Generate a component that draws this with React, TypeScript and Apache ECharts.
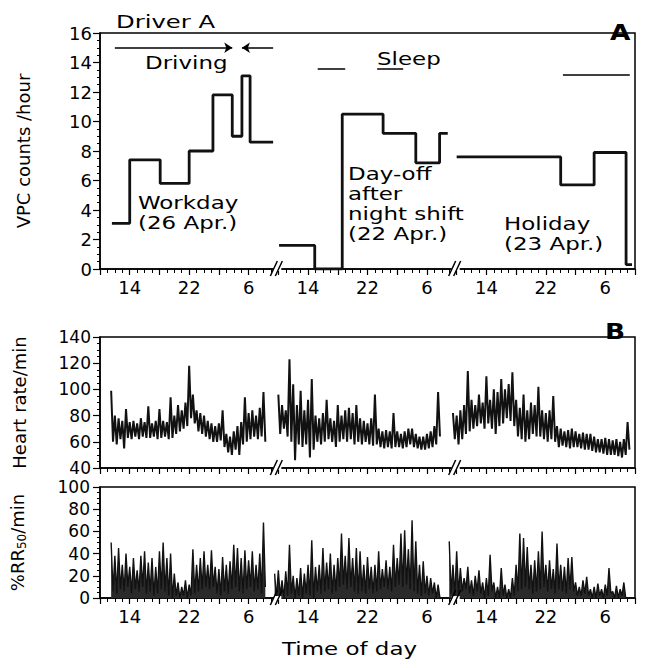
import React, { useEffect, useRef } from "react";
import * as echarts from "echarts";

// ---------- Data (hours counted from 10:00 of the first recorded day; 3 × 24 h panels) ----------
const tickHours = [4, 12, 20, 28, 36, 44, 52, 60, 68];
const tickLabels = ["14", "22", "6", "14", "22", "6", "14", "22", "6"];
const breakHours = [24, 48];

// Panel A: VPC counts/hour (step levels; hours list has one extra entry = end of segment)
const vpcWorkdayHours = [1.6, 4.0, 8.1, 12.0, 15.2, 17.8, 19.1, 20.2, 23.3];
const vpcWorkdayValues = [3.1, 7.4, 5.8, 8.0, 11.8, 9.0, 13.1, 8.6];
const vpcDayoffHours = [24.1, 28.9, 32.6, 38.1, 42.5, 45.7, 46.8];
const vpcDayoffValues = [1.6, 0, 10.5, 9.2, 7.2, 9.2];
const vpcHolidayHours = [48.0, 62.0, 66.5, 70.8, 71.6];
const vpcHolidayValues = [7.6, 5.7, 7.9, 0.3];

const drivingLevel = 15;
const drivingBars = [
  [2.0, 17.8, "end"],
  [19.1, 23.3, "start"],
];
const sleepBars = [
  [29.3, 33.0, 13.6],
  [37.3, 40.8, 13.6],
  [62.3, 71.3, 13.2],
];

// Panel B: heart rate/min, half-hour bins (high / low)
const hrStart1 = 1.5;
const hrHi1 = [99,80,78,76,85,75,76,74,78,75,87,74,76,85,76,75,94,80,88,84,90,118,96,84,82,80,76,74,72,74,84,66,64,68,72,75,94,82,84,80,86,98];
const hrLo1 = [60,58,62,55,63,62,64,62,64,63,63,64,62,63,64,62,63,66,68,70,72,78,74,68,66,64,62,60,60,61,56,52,50,54,50,58,60,62,64,62,64,60];
const hrStart2 = 24.0;
const hrHi2 = [96,88,84,123,104,88,99,84,92,108,80,78,82,92,78,76,88,80,84,86,82,88,78,76,74,78,96,70,68,69,68,82,68,66,68,70,70,66,64,64,66,68,72,98];
const hrLo2 = [66,70,64,60,46,58,56,58,48,54,60,58,60,62,60,56,60,62,60,62,58,60,58,60,58,57,58,56,55,56,55,56,56,55,56,58,56,55,54,54,55,56,58,64];
const hrStart3 = 47.5;
const hrHi3 = [82,80,84,88,114,92,88,96,90,110,92,100,98,108,100,104,113,92,86,96,84,90,88,102,84,82,84,95,72,70,68,69,70,68,66,67,66,66,64,62,62,63,62,61,62,60,62,75];
const hrLo3 = [62,58,62,66,68,70,72,74,70,74,70,66,72,74,78,76,72,64,62,60,62,66,64,64,62,60,62,60,56,57,56,55,56,56,55,54,54,53,52,52,51,50,50,50,49,48,50,54];

// Panel C: %RR50/min, half-hour bins (high / low)
const rrStart1 = 1.5;
const rrHi1 = [50,38,45,30,40,28,36,25,38,42,32,36,28,42,50,36,40,22,14,10,16,12,44,30,36,42,30,43,28,26,37,30,33,48,45,36,43,34,42,30,40,68];
const rrLo1 = [6,4,8,6,10,4,8,6,10,4,6,2,4,8,6,2,0,2,0,2,0,2,4,6,8,10,8,10,4,2,6,4,8,10,6,4,8,10,6,8,4,10];
const rrStart2 = 23.5;
const rrHi2 = [22,25,16,24,48,20,18,27,22,30,52,28,30,45,32,40,30,36,58,38,54,36,45,42,30,37,28,30,42,26,34,28,48,36,58,61,44,70,51,30,33,20,18,14,12];
const rrLo2 = [0,2,0,2,4,0,2,0,4,2,0,6,4,6,8,4,6,10,12,8,10,6,4,6,4,8,4,6,8,10,8,6,10,12,10,12,8,6,4,2,4,2,4,0,0];
const rrStart3 = 47.0;
const rrHi3 = [51,30,42,27,18,28,16,20,25,14,18,39,14,10,27,12,8,18,30,58,54,46,30,34,42,60,30,34,26,49,30,28,36,37,14,10,16,19,8,10,13,8,12,27,6,11,8,14];
const rrLo3 = [4,2,4,6,8,4,2,6,4,0,2,6,0,0,2,0,0,2,6,8,10,8,4,6,8,10,6,8,4,8,6,4,8,6,2,2,4,2,0,0,2,0,2,4,0,0,2,0];

// ---------- helpers ----------
const FONT = "DejaVu Sans";
const INK = "#000";

function stepData(hours: number[], values: number[]) {
  return hours.map((h, i) => [h, values[Math.min(i, values.length - 1)]]);
}
function zigzag(start: number, hi: number[], lo: number[]) {
  const pts: number[][] = [];
  hi.forEach((v, i) => {
    const t = start + i * 0.5;
    pts.push([t, v]);
    pts.push([t + 0.25, lo[i]]);
  });
  return pts;
}
function xLabel(v: number) {
  const i = tickHours.indexOf(v);
  return i >= 0 ? tickLabels[i] : "";
}

function makeX(gridIndex: number, showLabels: boolean) {
  return {
    type: "value",
    gridIndex,
    min: 0,
    max: 72,
    interval: 4,
    axisLine: { show: true, onZero: false, lineStyle: { color: INK, width: 1.5 } },
    axisTick: { show: true, length: 6, lineStyle: { color: INK, width: 1.2 } },
    minorTick: { show: true, splitNumber: 4, length: 4, lineStyle: { color: INK, width: 1 } },
    splitLine: { show: false },
    minorSplitLine: { show: false },
    axisLabel: {
      show: showLabels,
      formatter: xLabel,
      fontFamily: FONT,
      fontSize: 18,
      color: INK,
      margin: 9,
    },
  };
}

function makeY(gridIndex: number, min: number, max: number, interval: number, name: string, nameGap: number, fontSize: number, margin: number, rich?: any) {
  return {
    type: "value",
    gridIndex,
    min,
    max,
    interval,
    name,
    nameLocation: "middle",
    nameRotate: 90,
    nameGap,
    nameTextStyle: { fontFamily: FONT, fontSize: 18, color: INK, rich },
    axisLine: { show: true, lineStyle: { color: INK, width: 1.5 } },
    axisTick: { show: true, length: 7, lineStyle: { color: INK, width: 1.2 } },
    minorTick: { show: true, splitNumber: 4, length: 3, lineStyle: { color: INK, width: 1 } },
    splitLine: { show: false },
    minorSplitLine: { show: false },
    axisLabel: { fontFamily: FONT, fontSize, color: INK, margin },
  };
}

function breakSeries(gridIndex: number, yBase: number) {
  return {
    type: "custom",
    xAxisIndex: gridIndex,
    yAxisIndex: gridIndex,
    clip: false,
    z: 10,
    silent: true,
    data: breakHours.map((h) => [h, yBase]),
    renderItem: (_p: any, api: any) => {
      const p = api.coord([api.value(0), api.value(1)]);
      return {
        type: "group",
        children: [
          { type: "rect", shape: { x: p[0] - 5, y: p[1] - 2, width: 8, height: 4 }, style: { fill: "#fff" } },
          { type: "line", shape: { x1: p[0] - 8, y1: p[1] + 7, x2: p[0] - 1, y2: p[1] - 8 }, style: { stroke: INK, lineWidth: 1.5 } },
          { type: "line", shape: { x1: p[0] - 3, y1: p[1] + 7, x2: p[0] + 4, y2: p[1] - 8 }, style: { stroke: INK, lineWidth: 1.5 } },
        ],
      };
    },
  };
}

function lineSeries(gridIndex: number, data: number[][], width: number, step?: string, fill?: string) {
  const s: any = {
    type: "line",
    xAxisIndex: gridIndex,
    yAxisIndex: gridIndex,
    data,
    step: step || false,
    showSymbol: false,
    symbol: "none",
    silent: true,
    lineStyle: { color: "#111", width },
  };
  if (fill) s.areaStyle = { color: fill, opacity: 1 };
  return s;
}

function textEl(x: number, y: number, text: string, size = 17, extra: any = {}) {
  return {
    type: "text",
    x,
    y,
    scaleX: 1.35,
    silent: true,
    style: {
      text,
      fontFamily: FONT,
      fontSize: size,
      fill: INK,
      verticalAlign: "top",
      lineHeight: 20,
      ...extra,
    },
  };
}

export default function App() {
  const ref = useRef<HTMLDivElement>(null);
  useEffect(() => {
    if (!ref.current) return;
    const chart = echarts.init(ref.current, null, { renderer: "svg" });

    const vpcMarkLine = {
      silent: true,
      symbolSize: 8,
      label: { show: false },
      lineStyle: { color: INK, width: 1.5, type: "solid" },
      data: [
        ...drivingBars.map((b) => [
          { coord: [b[0], drivingLevel], symbol: b[2] === "start" ? "arrow" : "none" },
          { coord: [b[1], drivingLevel], symbol: b[2] === "end" ? "arrow" : "none" },
        ]),
        ...sleepBars.map((b) => [
          { coord: [b[0], b[2]], symbol: "none" },
          { coord: [b[1], b[2]], symbol: "none" },
        ]),
      ],
    };

    const option: any = {
      animation: false,
      backgroundColor: "#fff",
      grid: [
        { left: 100, right: 13, top: 33, height: 236, show: true, borderColor: INK, borderWidth: 1.5 },
        { left: 100, right: 13, top: 337, height: 131, show: true, borderColor: INK, borderWidth: 1.5 },
        { left: 100, right: 13, top: 487, height: 111, show: true, borderColor: INK, borderWidth: 1.5 },
      ],
      xAxis: [makeX(0, true), makeX(1, false), makeX(2, true)],
      yAxis: [
        makeY(0, 0, 16, 2, "VPC counts /hour", 68, 18, 8),
        makeY(1, 40, 140, 20, "Heart rate/min", 72, 17, 9),
        makeY(2, 0, 100, 20, "%RR{s|50}/min", 72, 17, 10, {
          s: { fontFamily: FONT, fontSize: 12, color: INK, verticalAlign: "bottom", lineHeight: 22 },
        }),
      ],
      series: [
        { ...lineSeries(0, stepData(vpcWorkdayHours, vpcWorkdayValues), 2.8, "end"), markLine: vpcMarkLine },
        lineSeries(0, stepData(vpcDayoffHours, vpcDayoffValues), 2.8, "end"),
        lineSeries(0, stepData(vpcHolidayHours, vpcHolidayValues), 2.8, "end"),
        lineSeries(1, zigzag(hrStart1, hrHi1, hrLo1), 2),
        lineSeries(1, zigzag(hrStart2, hrHi2, hrLo2), 2),
        lineSeries(1, zigzag(hrStart3, hrHi3, hrLo3), 2),
        lineSeries(2, zigzag(rrStart1, rrHi1, rrLo1), 1.4, undefined, "#2a2a2a"),
        lineSeries(2, zigzag(rrStart2, rrHi2, rrLo2), 1.4, undefined, "#2a2a2a"),
        lineSeries(2, zigzag(rrStart3, rrHi3, rrLo3), 1.4, undefined, "#2a2a2a"),
        breakSeries(0, 0),
        breakSeries(1, 40),
        breakSeries(2, 0),
      ],
      graphic: [
        textEl(116, 12, "Driver A", 18),
        textEl(145, 53, "Driving"),
        textEl(377, 49, "Sleep"),
        textEl(138, 193, "Workday\n(26 Apr.)"),
        textEl(348, 164, "Day-off\nafter\nnight shift\n(22 Apr.)"),
        textEl(504, 214, "Holiday\n(23 Apr.)"),
        textEl(282, 639, "Time of day"),
        { ...textEl(610, 22, "A", 22, { fontWeight: "bold" }), scaleX: 1.2 },
        { ...textEl(605, 321, "B", 22, { fontWeight: "bold" }), scaleX: 1.2 },
      ],
    };
    chart.setOption(option);
    return () => chart.dispose();
  }, []);

  return (
    <div
      ref={ref}
      style={{ position: "fixed", left: 0, top: 0, width: 648, height: 668, background: "#fff" }}
    />
  );
}
